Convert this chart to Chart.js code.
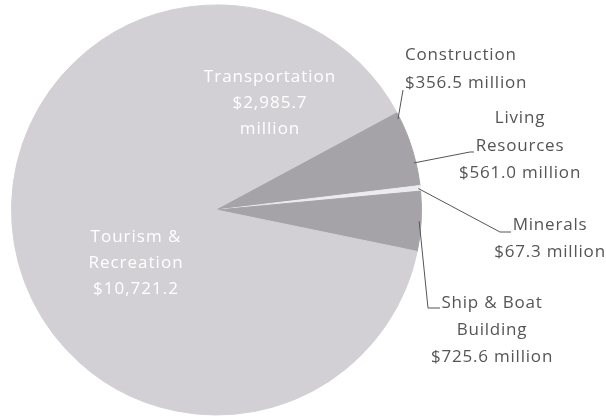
<!DOCTYPE html>
<html>
<head>
<meta charset="utf-8">
<script src="https://cdn.jsdelivr.net/npm/chart.js@4.4.1/dist/chart.umd.min.js"></script>
<style>
  html, body { margin: 0; padding: 0; background: #fff; }
  #wrap { width: 606px; height: 418px; }
</style>
</head>
<body>
<div id="wrap"><canvas id="pieChart"></canvas></div>
<script>
// Ocean economy sectors ($ million)
const sectors = ['Transportation', 'Construction', 'Living Resources', 'Minerals', 'Ship & Boat Building', 'Tourism & Recreation'];
const values = [2985.7, 356.5, 561.0, 67.3, 725.6, 10721.2];
const nameLines = [['Transportation'], ['Construction'], ['Living', 'Resources'], ['Minerals'], ['Ship & Boat', 'Building'], ['Tourism &', 'Recreation']];
const sliceColors = ['#d2d0d5', '#a5a3a8', '#a5a3a8', '#ececee', '#a5a3a8', '#d2d0d5'];

const money = v => '$' + v.toLocaleString('en-US', { minimumFractionDigits: 1, maximumFractionDigits: 1 });

// where each label sits, and the bend points of its leader line
const labelLayout = [
    { inside: true, x: 270, ys: [77, 103, 129], valueLines: i => [money(values[i]), 'million'] },
    { x: 405, align: 'left', ys: [55, 83], leader: [[403, 90]], at: 0.2 },
    { x: 520, ys: [118, 146, 173], leader: [[470, 152], [474, 152]] },
    { x: 550, ys: [225, 252], leader: [[500, 232], [511, 232]] },
    { x: 492, ys: [303, 330, 357], leader: [[428, 308], [440, 308]] },
    { inside: true, x: 136, ys: [237, 263, 289], valueLines: i => [money(values[i])] }
];

const labelPlugin = {
    id: 'sliceLabels',
    afterDraw(chart) {
        const ctx = chart.ctx;
        const arcs = chart.getDatasetMeta(0).data;
        ctx.save();
        ctx.textBaseline = 'middle';
        labelLayout.forEach((lay, i) => {
            const arc = arcs[i];
            const vl = lay.valueLines ? lay.valueLines(i) : [money(values[i]) + ' million'];
            const lines = nameLines[i].concat(vl);
            if (lay.leader) {
                const p = arc.getProps(['x', 'y', 'startAngle', 'endAngle', 'outerRadius'], true);
                const f = lay.at === undefined ? 0.5 : lay.at;
                const a = p.startAngle + (p.endAngle - p.startAngle) * f;
                ctx.beginPath();
                ctx.moveTo(p.x + Math.cos(a) * (p.outerRadius - 2), p.y + Math.sin(a) * (p.outerRadius - 2));
                lay.leader.forEach(pt => ctx.lineTo(pt[0], pt[1]));
                ctx.strokeStyle = '#555';
                ctx.lineWidth = 1;
                ctx.stroke();
            }
            ctx.fillStyle = lay.inside ? '#ffffff' : '#555555';
            ctx.font = '17px "Open Sans", sans-serif';
            ctx.letterSpacing = lay.inside ? '1px' : '0.8px';
            ctx.textAlign = lay.align || 'center';
            lines.forEach((t, k) => ctx.fillText(t, lay.x, lay.ys[k]));
        });
        ctx.restore();
    }
};

new Chart(document.getElementById('pieChart').getContext('2d'), {
    type: 'pie',
    data: {
        labels: sectors,
        datasets: [{
            data: values,
            backgroundColor: sliceColors,
            borderColor: sliceColors,
            borderWidth: 1
        }]
    },
    options: {
        responsive: true,
        maintainAspectRatio: false,
        animation: false,
        rotation: -8,
        layout: { padding: { left: 11, right: 184, top: 3, bottom: 1 } },
        events: [],
        plugins: {
            legend: { display: false },
            tooltip: { enabled: false },
            title: { display: false }
        }
    },
    plugins: [labelPlugin]
});
</script>
</body>
</html>
